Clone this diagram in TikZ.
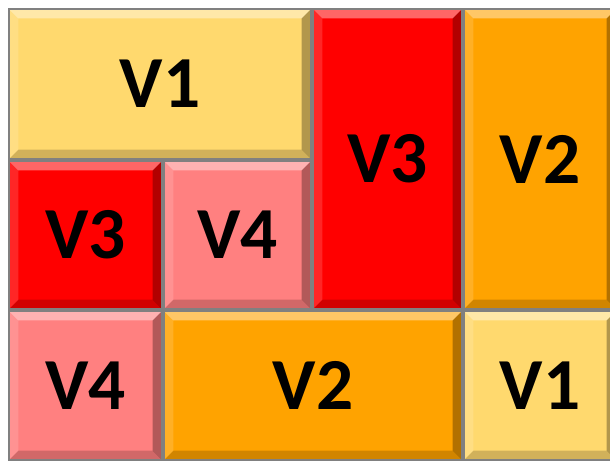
\documentclass[tikz,border=0pt]{standalone}
\usepackage{fontspec}
\setmainfont{Carlito}
\usepackage{tikz}
\usepackage{xcolor}
\usetikzlibrary{calc}
\definecolor{cYellow}{RGB}{255,217,110}
\definecolor{cRed}{RGB}{255,0,0}
\definecolor{cPink}{RGB}{255,128,128}
\definecolor{cOrange}{RGB}{255,163,0}
\definecolor{cEdge}{RGB}{128,128,128}
\tikzset{
	% bevelled tile, coordinates in pixels
	tile/.style={rectangle, draw=cEdge, line width=1.3pt, fill=#1, inner sep=0pt,
		font=\bfseries\fontsize{55}{60}\selectfont, text=black,
		path picture={
			\fill[white, opacity=0.4] (path picture bounding box.north west) -- (path picture bounding box.north east)
				-- ([xshift=-7pt,yshift=-7pt]path picture bounding box.north east) -- ([xshift=7pt,yshift=-7pt]path picture bounding box.north west) -- cycle;
			\fill[white, opacity=0.15] (path picture bounding box.north west) -- (path picture bounding box.south west)
				-- ([xshift=7pt,yshift=7pt]path picture bounding box.south west) -- ([xshift=7pt,yshift=-7pt]path picture bounding box.north west) -- cycle;
			\fill[black, opacity=0.18] (path picture bounding box.south west) -- (path picture bounding box.south east)
				-- ([xshift=-7pt,yshift=7pt]path picture bounding box.south east) -- ([xshift=7pt,yshift=7pt]path picture bounding box.south west) -- cycle;
			\fill[black, opacity=0.3] (path picture bounding box.north east) -- (path picture bounding box.south east)
				-- ([xshift=-7pt,yshift=7pt]path picture bounding box.south east) -- ([xshift=-7pt,yshift=-7pt]path picture bounding box.north east) -- cycle;
		}},
}
\begin{document}
\begin{tikzpicture}[x=0.75pt, y=-0.75pt]
	\useasboundingbox (0,0) rectangle (610,464);
	\fill[white] (0,0) rectangle (610,464);
	\clip (0,0) rectangle (610,464);
	% top band
	\node[tile=cYellow, minimum width=302*0.75pt, minimum height=150*0.75pt] (v1top) at (160,84) {V1};
	\node[tile=cRed, minimum width=149*0.75pt, minimum height=300*0.75pt] (v3tall) at (387.5,159) {V3};
	\node[tile=cOrange, minimum width=152*0.75pt, minimum height=300*0.75pt] (v2tall) at (540,159) {V2};
	% middle band
	\node[tile=cRed, minimum width=153*0.75pt, minimum height=148*0.75pt] (v3mid) at (85.5,235) {V3};
	\node[tile=cPink, minimum width=147*0.75pt, minimum height=148*0.75pt] (v4mid) at (237.5,235) {V4};
	% bottom band
	\node[tile=cPink, minimum width=153*0.75pt, minimum height=149*0.75pt] (v4bot) at (85.5,385.5) {V4};
	\node[tile=cOrange, minimum width=298*0.75pt, minimum height=149*0.75pt] (v2bot) at (313,385.5) {V2};
	\node[tile=cYellow, minimum width=152*0.75pt, minimum height=149*0.75pt] (v1bot) at (540,385.5) {V1};
\end{tikzpicture}
\end{document}
